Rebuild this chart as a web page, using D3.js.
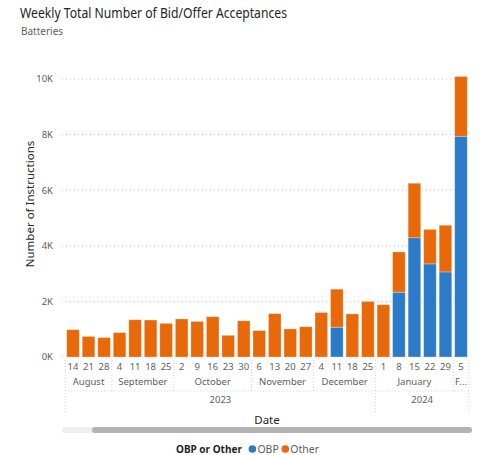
<!DOCTYPE html>
<html>
<head>
<meta charset="utf-8">
<script src="https://cdn.jsdelivr.net/npm/d3@7"></script>
<style>
  html, body { margin: 0; padding: 0; background: #fff; }
  svg { display: block; }
  text { font-family: "Segoe UI", "Noto Sans", "Open Sans", sans-serif; }
</style>
</head>
<body>
<svg id="chart" width="485" height="455"></svg>
<script>
// Week-start dates (ISO) for each bar
const weeks = [
  "2023-08-14","2023-08-21","2023-08-28",
  "2023-09-04","2023-09-11","2023-09-18","2023-09-25",
  "2023-10-02","2023-10-09","2023-10-16","2023-10-23","2023-10-30",
  "2023-11-06","2023-11-13","2023-11-20","2023-11-27",
  "2023-12-04","2023-12-11","2023-12-18","2023-12-25",
  "2024-01-01","2024-01-08","2024-01-15","2024-01-22","2024-01-29",
  "2024-02-05"
];
// Acceptances per week, split by series
const obpValues = [
  0, 0, 0,
  0, 0, 0, 0,
  0, 0, 0, 0, 0,
  0, 0, 0, 0,
  0, 1070, 0, 0,
  0, 2330, 4290, 3350, 3060,
  7940
];
const otherValues = [
  980, 740, 700,
  880, 1340, 1330, 1210,
  1370, 1280, 1450, 780, 1300,
  950, 1560, 1010, 1090,
  1600, 1370, 1550, 2000,
  1880, 1450, 1960, 1240, 1680,
  2150
];
const seriesNames = ["OBP", "Other"];
const yTicks = [0, 2000, 4000, 6000, 8000, 10000];
// Month names as shown under the day numbers (February is clipped by the axis)
const monthNames = {1: "January", 2: "F...", 8: "August", 9: "September", 10: "October", 11: "November", 12: "December"};

const colors = { OBP: "#2B7BC8", Other: "#E8690A" };
const textDark = "#252423";
const textGray = "#605E5C";
const gridGray = "#C8C6C4";
const sepGray = "#D4D4D4";

const svg = d3.select("#chart");
const parse = d3.timeParse("%Y-%m-%d");

const rows = weeks.map((w, i) => ({
  key: w,
  date: parse(w),
  OBP: obpValues[i],
  Other: otherValues[i]
}));

const x = d3.scaleBand()
  .domain(weeks)
  .range([65.8, 468.2])
  .paddingInner(0.19)
  .paddingOuter(0.06);

const y = d3.scaleLinear()
  .domain([0, 10000])
  .range([357, 79]);

const step = x.step();
const bandLeft = k => x(k) - step * x.paddingInner() / 2;
const bandRight = k => bandLeft(k) + step;

// Title block
svg.append("text")
  .attr("x", 20).attr("y", 18)
  .attr("font-family", "Roboto, 'Noto Sans', sans-serif")
  .attr("font-size", 14)
  .attr("textLength", 267)
  .attr("lengthAdjust", "spacingAndGlyphs")
  .attr("fill", textDark)
  .text("Weekly Total Number of Bid/Offer Acceptances");
svg.append("text")
  .attr("x", 21).attr("y", 35)
  .attr("font-family", "Roboto, 'Noto Sans', sans-serif")
  .attr("font-size", 10)
  .attr("fill", textGray)
  .text("Batteries");

// Horizontal gridlines + y tick labels
const gy = svg.append("g");
gy.selectAll("line").data(yTicks).join("line")
  .attr("x1", 62).attr("x2", 470)
  .attr("y1", d => y(d)).attr("y2", d => y(d))
  .attr("stroke", gridGray)
  .attr("stroke-width", 1)
  .attr("stroke-dasharray", "1,3");
gy.selectAll("text").data(yTicks).join("text")
  .attr("x", 53).attr("y", d => y(d))
  .attr("dy", "0.35em")
  .attr("text-anchor", "end")
  .attr("font-size", 9.5)
  .attr("fill", textGray)
  .text(d => (d / 1000) + "K");

// Stacked bars
const stack = d3.stack().keys(seriesNames);
const layers = stack(rows);
svg.append("g").selectAll("g").data(layers).join("g")
  .attr("fill", d => colors[d.key])
  .selectAll("rect")
  .data(d => d.filter(p => p[1] - p[0] > 0))
  .join("rect")
  .attr("x", d => x(d.data.key))
  .attr("width", x.bandwidth())
  .attr("y", d => y(d[1]))
  .attr("height", d => y(d[0]) - y(d[1]))
  .attr("stroke", "#fff")
  .attr("stroke-opacity", 0.35)
  .attr("stroke-width", 0.8);

// Hierarchical date axis: day, month, year
const dayY = 367, monthY = 382, yearY = 400;
const ax = svg.append("g");

ax.selectAll("text.day").data(rows).join("text")
  .attr("class", "day")
  .attr("x", d => x(d.key) + x.bandwidth() / 2)
  .attr("y", dayY)
  .attr("dy", "0.35em")
  .attr("text-anchor", "middle")
  .attr("font-size", 9.5)
  .attr("fill", textGray)
  .text(d => d.date.getDate());

const monthGroups = d3.groups(rows, d => d3.timeFormat("%Y-%m")(d.date)).map(([k, v]) => ({
  key: k,
  month: v[0].date.getMonth() + 1,
  year: v[0].date.getFullYear(),
  x0: bandLeft(v[0].key),
  x1: bandRight(v[v.length - 1].key)
}));
const yearGroups = d3.groups(rows, d => d.date.getFullYear()).map(([k, v]) => ({
  year: k,
  x0: bandLeft(v[0].key),
  x1: bandRight(v[v.length - 1].key)
}));

ax.selectAll("text.month").data(monthGroups).join("text")
  .attr("class", "month")
  .attr("x", d => (d.x0 + d.x1) / 2)
  .attr("y", monthY)
  .attr("dy", "0.35em")
  .attr("text-anchor", "middle")
  .attr("font-size", 9.5)
  .attr("fill", textGray)
  .text(d => monthNames[d.month]);

ax.selectAll("text.year").data(yearGroups).join("text")
  .attr("class", "year")
  .attr("x", d => (d.x0 + d.x1) / 2)
  .attr("y", yearY)
  .attr("dy", "0.35em")
  .attr("text-anchor", "middle")
  .attr("font-size", 9.5)
  .attr("fill", textGray)
  .text(d => d.year);

// Dotted separators between month and year groups
const sepStyle = sel => sel
  .attr("stroke", sepGray)
  .attr("stroke-width", 1)
  .attr("stroke-dasharray", "1,2");
const monthBounds = monthGroups.slice(1).map(d => d.x0)
  .filter(b => !yearGroups.some(g => Math.abs(g.x0 - b) < 0.5));
ax.selectAll("line.msep").data(monthBounds).join("line")
  .attr("class", "msep")
  .attr("x1", d => d).attr("x2", d => d)
  .attr("y1", 360).attr("y2", 391)
  .call(sepStyle);
const yearBounds = [yearGroups[0].x0, ...yearGroups.map(d => d.x1)];
ax.selectAll("line.ysep").data(yearBounds).join("line")
  .attr("class", "ysep")
  .attr("x1", d => d).attr("x2", d => d)
  .attr("y1", 360).attr("y2", 413)
  .call(sepStyle);
ax.append("line")
  .attr("x1", yearGroups[0].x0).attr("x2", yearGroups[yearGroups.length - 1].x1)
  .attr("y1", 391).attr("y2", 391)
  .call(sepStyle);

// Axis titles
svg.append("text")
  .attr("x", 267).attr("y", 420)
  .attr("dy", "0.35em")
  .attr("text-anchor", "middle")
  .attr("font-size", 11.5)
  .attr("fill", textDark)
  .text("Date");
svg.append("text")
  .attr("transform", "translate(30,204) rotate(-90)")
  .attr("dy", "0.35em")
  .attr("text-anchor", "middle")
  .attr("font-size", 11.5)
  .attr("fill", textDark)
  .text("Number of Instructions");

// Scroll bar under the date axis
svg.append("rect")
  .attr("x", 62).attr("y", 427).attr("width", 410).attr("height", 6)
  .attr("rx", 3).attr("fill", "#EFEFEF");
svg.append("rect")
  .attr("x", 92).attr("y", 427).attr("width", 380).attr("height", 6)
  .attr("rx", 3).attr("fill", "#B3B3B3");

// Legend
const legend = svg.append("g").attr("transform", "translate(176,449)");
const legTitle = legend.append("text")
  .attr("dy", "0.35em")
  .attr("font-size", 10)
  .attr("font-weight", "bold")
  .attr("fill", textDark)
  .text("OBP or Other");
let lx = legTitle.node().getComputedTextLength() + 7;
seriesNames.forEach(name => {
  legend.append("circle")
    .attr("cx", lx + 3.5).attr("cy", 0).attr("r", 3.8)
    .attr("fill", colors[name]);
  const t = legend.append("text")
    .attr("x", lx + 8.5)
    .attr("dy", "0.35em")
    .attr("font-size", 10.5)
    .attr("fill", textGray)
    .text(name);
  lx += 8.5 + t.node().getComputedTextLength() + 3;
});
</script>
</body>
</html>
